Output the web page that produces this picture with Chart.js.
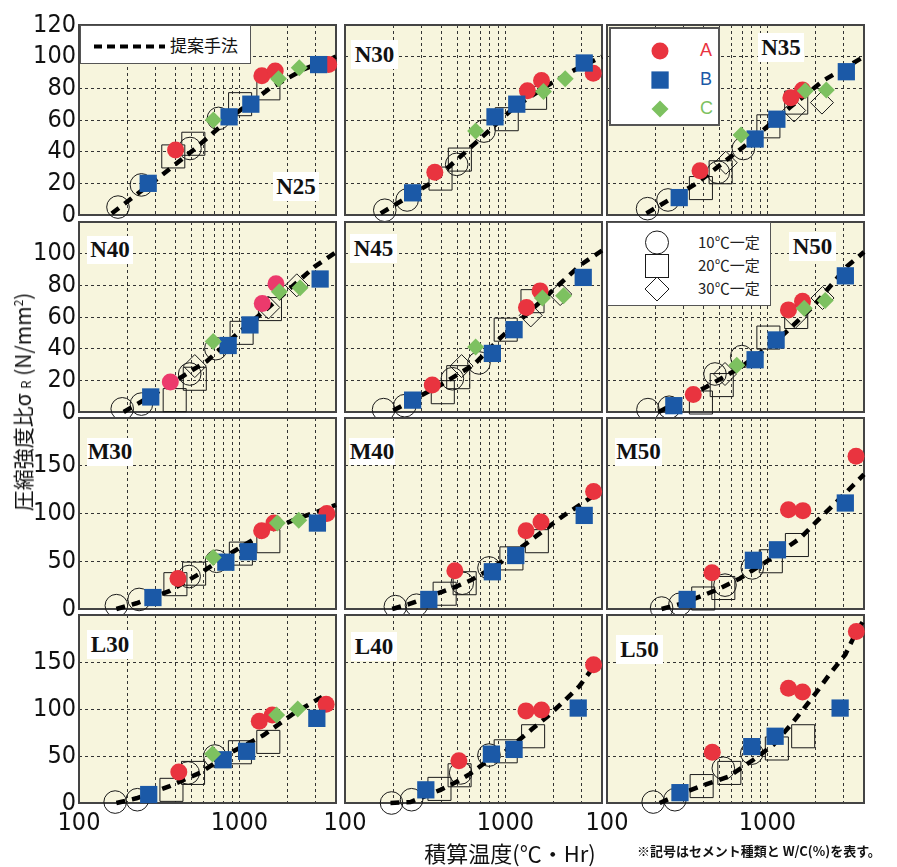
<!DOCTYPE html>
<html><head><meta charset="utf-8">
<script src="https://cdn.jsdelivr.net/npm/chart.js@4.4.0/dist/chart.umd.min.js"></script>
<style>
body{margin:0;background:#fff;width:897px;height:867px;position:relative;overflow:hidden;font-family:"Noto Sans CJK JP",sans-serif;}
canvas{position:absolute;}
.plbl{position:absolute;background:#fff;font-family:"Liberation Serif","DejaVu Serif",serif;font-weight:bold;font-size:23px;color:#111;text-align:center;z-index:6;}
.box{position:absolute;background:#fff;border:1.5px solid #555;z-index:6;box-sizing:border-box;}
.box svg{position:absolute;left:0;top:0;}
.t{position:absolute;white-space:nowrap;}
</style></head><body>
<script>
// ---------------- DATA ----------------
const X_GRID = [100,200,300,400,500,600,700,800,900,1000,2000,3000,4000];
const X_TICK_LABELS = [100,1000];
const Y_GRID_N = [0,20,40,60,80,100,120];
const Y_GRID_ML = [0,50,100,150,200];
const Y_LABELS_ROW = [[0,20,40,60,80,100,120],[0,20,40,60,80,100],[0,50,100,150],[0,50,100,150]];
const Y_MAX_ROW = [120,120,200,200];
const PANEL_NAMES = ['N25','N30','N35','N40','N45','N50','M30','M40','M50','L30','L40','L50'];

const N25_10C = [[175,5],[245,19],[492,42],[740,61]];
const N25_20C = [[387,37],[516,45],[1010,70],[1516,80]];
const N25_30C = [];
const N25_A = [[400,41],[1380,88],[1672,91],[3600,95]];
const N25_B = [[270,20],[862,62],[1178,70],[3118,95]];
const N25_C = [[688,60],[1753,86],[2361,93]];
const N25_LINE = [[160,1],[318,24],[516,41],[917,63],[1550,80],[2510,92],[4000,100]];

const N30_10C = [[177,3],[244,9.5],[497,32],[735,53]];
const N30_20C = [[394,23],[520,35],[1019,60.5],[1531,74]];
const N30_30C = [];
const N30_A = [[363,27],[1372,78.5],[1679,85],[3528,89.5]];
const N30_B = [[264,14],[861,62],[1177,70],[3099,96]];
const N30_C = [[652,53],[1728,78],[2358,86]];
const N30_LINE = [[167,1],[341,20],[668,46.5],[1135,68],[1913,83],[2694,91.6],[4000,100]];

const N35_10C = [[179,4],[240,9.5],[494,27],[708,42]];
const N35_20C = [[385,17],[511,27],[1014,56],[1512,71]];
const N35_30C = [[550,33],[1468,66],[2188,71]];
const N35_A = [[380,28],[1400,74],[1655,79]];
const N35_B = [[282,11],[838,48],[1145,60.5],[3104,90.5]];
const N35_C = [[685,50.5],[1722,78.5],[2328,79]];
const N35_LINE = [[176,1],[362,20],[708,43],[1383,68],[2237,85],[4000,100]];

const N40_10C = [[186,2],[245,5],[490,24],[713,40]];
const N40_20C = [[395,7.5],[527,21],[1032,50],[1550,65]];
const N40_30C = [[527,29],[1515,66],[2278,80]];
const N40_A = [[371,19],[1388,68.5],[1690,81]];
const N40_B = [[280,9.5],[851,42],[1163,55],[3185,84]];
const N40_C = [[686,44.5],[1774,76],[2388,78.5]];
const N40_LINE = [[190,0],[326,14],[624,32],[961,49],[1515,66],[2963,92],[4000,101]];

const N45_10C = [[174,1.5],[236,4],[467,21],[684,31]];
const N45_20C = [[407,12.5],[508,22],[1004,52],[1475,70]];
const N45_30C = [[533,29],[1439,61],[2194,74.5]];
const N45_A = [[350,17],[1353,66],[1645,76.5]];
const N45_B = [[264,7.5],[829,37],[1132,52],[3055,85]];
const N45_C = [[652,41],[1702,72],[2303,73.5]];
const N45_LINE = [[200,1],[394,17],[637,30],[935,47],[1585,68],[2953,93],[4000,102]];

const N50_10C = [[180,1.5],[244,3],[471,24],[692,35]];
const N50_20C = [[385,6],[519,17],[1014,47],[1512,60]];
const N50_30C = [[544,24],[1490,60],[2206,72]];
const N50_A = [[345,11],[1352,64.5],[1655,70]];
const N50_B = [[261,4],[838,33],[1133,45.5],[3060,86]];
const N50_C = [[644,29.5],[1696,65.5],[2292,70.5]];
const N50_LINE = [[210,0],[418,16],[675,28],[1145,45],[1939,67],[3135,92],[4000,101]];

const M30_10C = [[171,3.5],[237,10],[486,34],[720,50]];
const M30_20C = [[399,26],[522,37],[1021,58],[1515,71]];
const M30_30C = [];
const M30_A = [[414,32],[1376,82],[1642,90],[3508,100]];
const M30_B = [[289,12],[823,49],[1135,60],[3063,90]];
const M30_C = [[686,54],[1723,90],[2344,93]];
const M30_LINE = [[171,0],[228,6],[368,19],[566,37],[915,60],[1409,79],[2169,93],[4000,109]];

const M40_10C = [[206,2.5],[279,4],[538,27],[790,43]];
const M40_20C = [[418,16],[557,27],[1090,53],[1570,71]];
const M40_30C = [];
const M40_A = [[484,40],[1345,82],[1667,91],[3545,123]];
const M40_B = [[333,10],[829,39],[1160,56],[3098,98]];
const M40_C = [];
const M40_LINE = [[197,0],[250,5],[484,23],[607,30],[790,41],[980,51],[1439,72],[2268,97],[3500,118]];

const M50_10C = [[219,1],[285,5],[544,25],[805,43]];
const M50_20C = [[398,11],[531,22],[1050,50],[1527,67]];
const M50_30C = [];
const M50_A = [[451,38],[1352,104],[1663,103],[3568,160]];
const M50_B = [[316,10],[818,51],[1155,62],[3059,111]];
const M50_C = [];
const M50_LINE = [[219,0],[298,6],[483,20],[674,32],[994,50],[1597,74],[2036,92],[3135,123],[4000,141]];

const L30_10C = [[168,1],[231,3.5],[479,32],[703,50]];
const L30_20C = [[377,14],[514,32],[1007,54],[1514,65]];
const L30_30C = [];
const L30_A = [[419,33],[1330,87],[1603,93.5],[3472,105]];
const L30_B = [[272,9],[792,46],[1109,55],[3038,90]];
const L30_C = [[680,52],[1706,93.5],[2310,100]];
const L30_LINE = [[171,0],[228,5],[368,18],[566,32],[915,55],[1409,72],[2169,95],[3430,115]];

const L40_10C = [[195,0],[260,3.5],[526,32],[790,51]];
const L40_20C = [[388,15],[518,29.5],[1004,55],[1488,71]];
const L40_30C = [];
const L40_A = [[513,45],[1343,98],[1679,99],[3545,147]];
const L40_B = [[319,14],[818,52],[1132,57],[2843,101]];
const L40_C = [];
const L40_LINE = [[192,0],[256,1],[394,14],[490,22],[602,31],[735,42],[957,52],[1472,79],[1830,92],[2304,108],[2884,124],[3545,145]];

const L50_10C = [[194,1],[265,3.5],[531,37],[799,53]];
const L50_20C = [[389,18],[579,32],[1145,58],[1671,71]];
const L50_30C = [];
const L50_A = [[453,54],[1352,122],[1655,118],[3584,182.5]];
const L50_B = [[285,11],[799,60],[1117,71],[2839,101]];
const L50_C = [];
const L50_LINE = [[213,0],[299,11],[418,20],[570,28],[818,46],[1090,62],[1398,83],[1695,101],[2005,117],[2466,138],[3059,158],[3584,182],[4000,195]];

const SERIES = {
  N25:[N25_10C,N25_20C,N25_30C,N25_A,N25_B,N25_C,N25_LINE],
  N30:[N30_10C,N30_20C,N30_30C,N30_A,N30_B,N30_C,N30_LINE],
  N35:[N35_10C,N35_20C,N35_30C,N35_A,N35_B,N35_C,N35_LINE],
  N40:[N40_10C,N40_20C,N40_30C,N40_A,N40_B,N40_C,N40_LINE],
  N45:[N45_10C,N45_20C,N45_30C,N45_A,N45_B,N45_C,N45_LINE],
  N50:[N50_10C,N50_20C,N50_30C,N50_A,N50_B,N50_C,N50_LINE],
  M30:[M30_10C,M30_20C,M30_30C,M30_A,M30_B,M30_C,M30_LINE],
  M40:[M40_10C,M40_20C,M40_30C,M40_A,M40_B,M40_C,M40_LINE],
  M50:[M50_10C,M50_20C,M50_30C,M50_A,M50_B,M50_C,M50_LINE],
  L30:[L30_10C,L30_20C,L30_30C,L30_A,L30_B,L30_C,L30_LINE],
  L40:[L40_10C,L40_20C,L40_30C,L40_A,L40_B,L40_C,L40_LINE],
  L50:[L50_10C,L50_20C,L50_30C,L50_A,L50_B,L50_C,L50_LINE]
};

// ---------------- LAYOUT / STYLE ----------------
const COLS = [79, 345, 607];
const ROWS = [{t:25,h:190},{t:222,h:190},{t:418,h:191},{t:615,h:188}];
const PW = 257;
const PL = 75, PT = 20, PR = 20, PB = 45;
const BG = '#F7F5DD';
const RED = '#E9343F', PINK = '#EC3A6C', BLUE = '#1B59A7', GREEN = '#7DC160';
const TICK_FONT = {family:'"Liberation Sans Narrow","DejaVu Sans Condensed",sans-serif', size:25};
const LABEL_POS = {N25:[273,172,46,29],N30:[351,40,47,29],N35:[758,33,46,29],N40:[87,236,46,28],N45:[350,234,47,29],N50:[789,232,47,29],
  M30:[87,438,46,28],M40:[349,438,46,27],M50:[615,438,47,28],L30:[87,630,46,29],L40:[351,632,46,29],L50:[616,635,47,29]};

const framePlugin = {
  id:'frame',
  beforeDraw(chart){ const {ctx, chartArea:a} = chart; ctx.save(); ctx.fillStyle = BG; ctx.fillRect(a.left, a.top, a.right-a.left, a.bottom-a.top); ctx.restore(); },
  beforeDatasetsDraw(chart){ const {ctx, chartArea:a} = chart; ctx.save(); ctx.lineWidth = 2; ctx.strokeStyle = '#444'; ctx.strokeRect(a.left, a.top, a.right-a.left, a.bottom-a.top); ctx.restore(); }
};

const xy = arr => arr.map(([x,y]) => ({x, y}));

PANEL_NAMES.forEach((name, i) => {
  const r = Math.floor(i/3), c = i%3;
  const [s10, s20, s30, sA, sB, sC, sLine] = SERIES[name];
  const W = PW+PL+PR, H = ROWS[r].h+PT+PB;
  const cv = document.createElement('canvas');
  cv.width = W; cv.height = H;
  cv.style.left = (COLS[c]-PL)+'px'; cv.style.top = (ROWS[r].t-PT)+'px';
  cv.style.width = W+'px'; cv.style.height = H+'px';
  document.body.appendChild(cv);
  const hollow = (data, style, rad, order) => ({data: xy(data), pointStyle: style, pointRadius: rad, pointHoverRadius: rad,
    backgroundColor:'rgba(0,0,0,0)', borderColor:'#1a1a1a', borderWidth:1, order, clip:false});
  const filled = (data, style, rad, col, order) => ({data: xy(data), pointStyle: style, pointRadius: rad, pointHoverRadius: rad,
    backgroundColor:col, borderColor:col, borderWidth:0, order, clip:false});
  new Chart(cv, {
    type:'scatter',
    data:{datasets:[
      filled(sC,'rectRot',8.5,GREEN,1),
      filled(sB,'rect',12.2,BLUE,2),
      filled(sA,'circle',8.5, name==='N40'?PINK:RED,3),
      {data: xy(sLine), showLine:true, pointRadius:0, pointHoverRadius:0, borderColor:'#000', borderWidth:4.5, borderDash:[9,7], fill:false, order:5, clip:false},
      hollow(s30,'rectRot',11.5,8),
      hollow(s20,'rect',16.3,9),
      hollow(s10,'circle',11.3,10)
    ]},
    options:{
      animation:false, responsive:false, events:[],
      layout:{padding:{top:PT,right:PR,left:0,bottom:0}},
      plugins:{legend:{display:false}, tooltip:{enabled:false}},
      scales:{
        x:{type:'logarithmic', min:100, max:4000, position:'bottom',
          afterBuildTicks: s => { s.ticks = X_GRID.map(v => ({value:v})); },
          afterFit: s => { s.height = PB; },
          grid:{color:'#333', lineWidth:1, drawTicks:false},
          border:{display:false, dash:[3,3]},
          ticks:{display: r===3, autoSkip:false, maxRotation:0, minRotation:0, padding:5, font:TICK_FONT, color:'#111',
            callback: v => X_TICK_LABELS.includes(v) ? String(v) : ''}
        },
        y:{type:'linear', min:0, max:Y_MAX_ROW[r],
          afterBuildTicks: s => { s.ticks = (r<2?Y_GRID_N:Y_GRID_ML).map(v => ({value:v})); },
          afterFit: s => { s.width = PL; },
          grid:{color:'#333', lineWidth:1, drawTicks:false},
          border:{display:false, dash:[3,3]},
          ticks:{display: c===0, autoSkip:false, padding:3, font:TICK_FONT, color:'#111',
            callback: v => Y_LABELS_ROW[r].includes(v) ? String(v) : ''}
        }
      }
    },
    plugins:[framePlugin]
  });
  const p = LABEL_POS[name];
  const d = document.createElement('div');
  d.className = 'plbl'; d.textContent = name;
  d.style.cssText = `left:${p[0]}px;top:${p[1]}px;width:${p[2]}px;height:${p[3]}px;line-height:${p[3]}px;`;
  document.body.appendChild(d);
});
</script>

<!-- legend: proposed method -->
<div class="box" style="left:80px;top:25px;width:171px;height:39px;">
  <svg width="171" height="39"><line x1="13" y1="20.5" x2="84" y2="20.5" stroke="#000" stroke-width="4" stroke-dasharray="8,5"/></svg>
  <div class="t" style="left:89px;top:7px;font-size:17px;line-height:24px;color:#111;">提案手法</div>
</div>

<!-- legend: A B C -->
<div class="box" style="left:609px;top:27px;width:111px;height:99px;border-width:2px;">
  <svg width="111" height="99">
    <circle cx="49" cy="22" r="8.5" fill="#E9343F"/>
    <rect x="40.4" y="42.4" width="17.3" height="17.3" fill="#1B59A7"/>
    <polygon points="49,71.5 57.5,80 49,88.5 40.5,80" fill="#7DC160"/>
  </svg>
  <div class="t" style="left:89px;top:9px;font-size:18px;line-height:24px;color:#E9343F;font-family:'Liberation Sans Narrow',sans-serif;">A</div>
  <div class="t" style="left:89px;top:38px;font-size:18px;line-height:24px;color:#1B59A7;font-family:'Liberation Sans Narrow',sans-serif;">B</div>
  <div class="t" style="left:89px;top:67px;font-size:18px;line-height:24px;color:#7DC160;font-family:'Liberation Sans Narrow',sans-serif;">C</div>
</div>

<!-- legend: temperatures -->
<div class="box" style="left:607px;top:222px;width:164px;height:84px;">
  <svg width="164" height="84">
    <circle cx="49" cy="19.5" r="11.5" fill="none" stroke="#1a1a1a" stroke-width="1"/>
    <rect x="37.5" y="31.5" width="23" height="23" fill="none" stroke="#1a1a1a" stroke-width="1"/>
    <polygon points="49,54 61,66 49,78 37,66" fill="none" stroke="#1a1a1a" stroke-width="1"/>
  </svg>
  <div class="t" style="left:90px;top:8px;font-size:15px;line-height:22px;color:#222;font-family:'Liberation Sans Narrow','Noto Sans CJK JP',sans-serif;">10℃一定</div>
  <div class="t" style="left:90px;top:31px;font-size:15px;line-height:22px;color:#222;font-family:'Liberation Sans Narrow','Noto Sans CJK JP',sans-serif;">20℃一定</div>
  <div class="t" style="left:90px;top:54px;font-size:15px;line-height:22px;color:#222;font-family:'Liberation Sans Narrow','Noto Sans CJK JP',sans-serif;">30℃一定</div>
</div>

<!-- axis titles -->
<div class="t" style="left:22px;top:402px;transform:translate(-50%,-50%) rotate(-90deg);font-size:21px;color:#111;">圧縮強度比σ <span style="font-size:13px;">R</span> (N/mm<sup style="font-size:12px;">2</sup>)</div>
<div class="t" style="left:510px;top:852px;transform:translate(-50%,-50%);font-size:22px;color:#111;">積算温度(℃・Hr)</div>
<div class="t" style="left:637px;top:843px;font-size:13px;font-weight:bold;color:#111;line-height:16px;">※記号はセメント種類と W/C(%)を表す。</div>
</body></html>
